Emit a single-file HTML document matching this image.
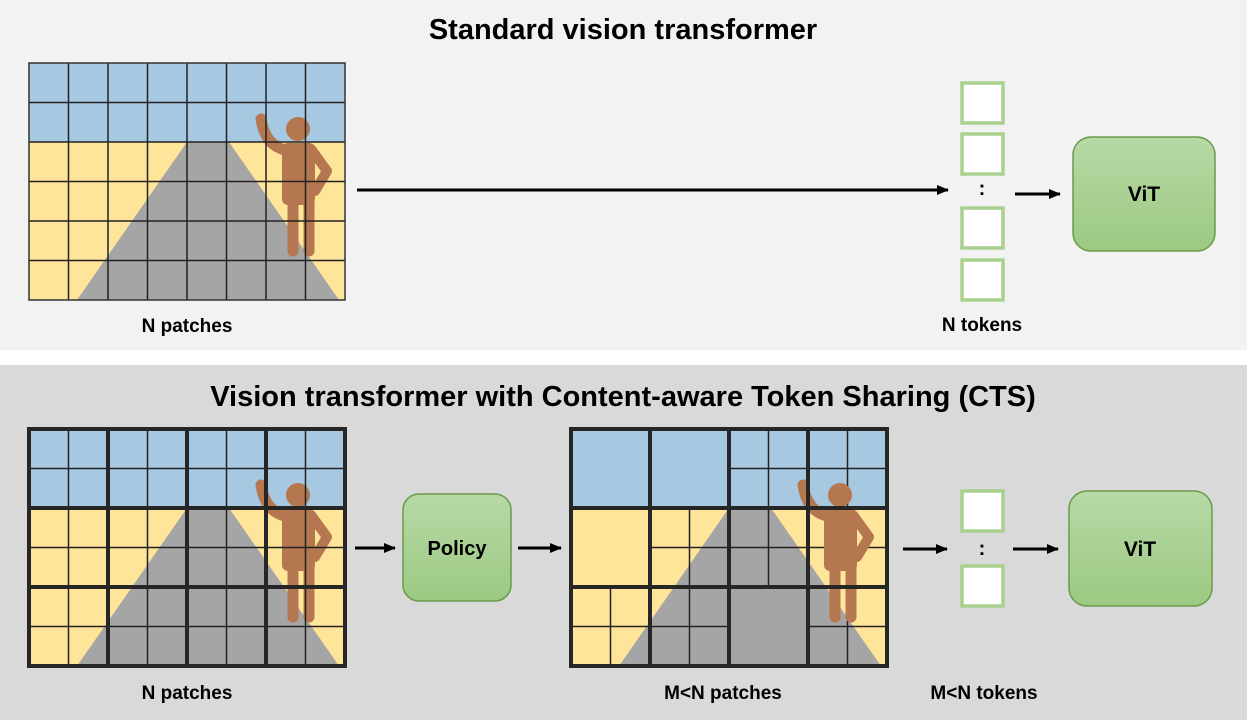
<!DOCTYPE html>
<html><head><meta charset="utf-8"><style>
body{margin:0;width:1247px;height:720px;overflow:hidden;background:#fff;font-family:"Liberation Sans",sans-serif}
svg text{font-family:"Liberation Sans",sans-serif;font-weight:bold}
</style></head><body>
<svg width="1247" height="720" viewBox="0 0 1247 720" xmlns="http://www.w3.org/2000/svg">
<defs>
<linearGradient id="g" x1="0" y1="0" x2="0" y2="1"><stop offset="0" stop-color="#b7d9a6"/><stop offset="1" stop-color="#9cc982"/></linearGradient>
<marker id="ah" markerWidth="12" markerHeight="12" refX="11" refY="6" orient="auto" markerUnits="userSpaceOnUse"><path d="M0,1 L12,6 L0,11 z" fill="#000"/></marker>
<g id="scene">
<rect x="0" y="0" width="316" height="79" fill="#a6c8e0"/>
<rect x="0" y="79" width="316" height="158" fill="#ffe599"/>
<polygon points="158,79 200,79 310,237 48,237" fill="#a5a5a5"/>
</g>
<g id="person" fill="#b5774f" stroke="#b5774f" stroke-linecap="round" stroke-linejoin="round">
<circle cx="269" cy="66" r="12" stroke="none"/>
<path d="M232,56 Q236,82 256,87" fill="none" stroke-width="11"/>
<rect x="253" y="80" width="33" height="62" rx="6" stroke="none"/>
<line x1="264" y1="138" x2="264" y2="188" stroke-width="11"/>
<line x1="280" y1="138" x2="280" y2="188" stroke-width="11"/>
<polyline points="282,86 298,108 286,128" fill="none" stroke-width="10"/>
</g>
<g id="fine" stroke="#222" stroke-width="1.5">
<line x1="39.5" y1="0" x2="39.5" y2="237"/><line x1="79" y1="0" x2="79" y2="237"/><line x1="118.5" y1="0" x2="118.5" y2="237"/><line x1="158" y1="0" x2="158" y2="237"/><line x1="197.5" y1="0" x2="197.5" y2="237"/><line x1="237" y1="0" x2="237" y2="237"/><line x1="276.5" y1="0" x2="276.5" y2="237"/>
<line x1="0" y1="39.5" x2="316" y2="39.5"/><line x1="0" y1="79" x2="316" y2="79"/><line x1="0" y1="118.5" x2="316" y2="118.5"/><line x1="0" y1="158" x2="316" y2="158"/><line x1="0" y1="197.5" x2="316" y2="197.5"/>
</g>
<g id="thick" stroke="#262626" stroke-width="4" fill="none">
<rect x="0" y="0" width="316" height="237"/>
<line x1="79" y1="0" x2="79" y2="237"/><line x1="158" y1="0" x2="158" y2="237"/><line x1="237" y1="0" x2="237" y2="237"/>
<line x1="0" y1="79" x2="316" y2="79"/><line x1="0" y1="158" x2="316" y2="158"/>
</g>
</defs>
<rect x="0" y="0" width="1247" height="350" fill="#f2f2f2"/>
<rect x="0" y="365" width="1247" height="355" fill="#d9d9d9"/>
<text x="623" y="39" font-size="29" text-anchor="middle">Standard vision transformer</text>
<text x="623" y="406" font-size="29" text-anchor="middle">Vision transformer with Content-aware Token Sharing (CTS)</text>

<g transform="translate(29,63)">
<use href="#scene"/><use href="#person"/><use href="#fine"/>
<rect x="0" y="0" width="316" height="237" fill="none" stroke="#333" stroke-width="1.5"/>
</g>
<text x="187" y="332" font-size="19" text-anchor="middle">N patches</text>
<line x1="357" y1="190" x2="948" y2="190" stroke="#000" stroke-width="3" marker-end="url(#ah)"/>
<g fill="#fff" stroke="#a9d18e" stroke-width="3.5">
<rect x="962" y="83" width="41" height="40"/><rect x="962" y="134" width="41" height="40"/>
<rect x="962" y="208" width="41" height="40"/><rect x="962" y="260" width="41" height="40"/>
</g>
<text x="982" y="195" font-size="20" text-anchor="middle">:</text>
<line x1="1015" y1="194" x2="1060" y2="194" stroke="#000" stroke-width="3" marker-end="url(#ah)"/>
<rect x="1073" y="137" width="142" height="114" rx="18" fill="url(#g)" stroke="#6a9a4c" stroke-width="1.5"/>
<text x="1144" y="201" font-size="21" text-anchor="middle">ViT</text>
<text x="982" y="331" font-size="19" text-anchor="middle">N tokens</text>

<g transform="translate(29,429)">
<use href="#scene"/><use href="#person"/><use href="#fine"/><use href="#thick"/>
</g>
<text x="187" y="699" font-size="19" text-anchor="middle">N patches</text>
<line x1="355" y1="548" x2="395" y2="548" stroke="#000" stroke-width="3" marker-end="url(#ah)"/>
<rect x="403" y="494" width="108" height="107" rx="16" fill="url(#g)" stroke="#6a9a4c" stroke-width="1.5"/>
<text x="457" y="555" font-size="20" text-anchor="middle">Policy</text>
<line x1="518" y1="548" x2="561" y2="548" stroke="#000" stroke-width="3" marker-end="url(#ah)"/>

<g transform="translate(571,429)">
<use href="#scene"/>
<g stroke="#222" stroke-width="1.5">
<line x1="197.5" y1="0" x2="197.5" y2="158"/><line x1="276.5" y1="0" x2="276.5" y2="237"/>
<line x1="158" y1="39.5" x2="316" y2="39.5"/>
<line x1="118.5" y1="79" x2="118.5" y2="237"/>
<line x1="79" y1="118.5" x2="316" y2="118.5"/>
<line x1="39.5" y1="158" x2="39.5" y2="237"/>
<line x1="0" y1="197.5" x2="158" y2="197.5"/><line x1="237" y1="197.5" x2="316" y2="197.5"/>
</g>
<use href="#person"/><use href="#thick"/>
</g>
<text x="723" y="699" font-size="19" text-anchor="middle">M&lt;N patches</text>
<line x1="903" y1="549" x2="947" y2="549" stroke="#000" stroke-width="3" marker-end="url(#ah)"/>
<g fill="#fff" stroke="#a9d18e" stroke-width="3.5">
<rect x="962" y="491" width="41" height="40"/><rect x="962" y="566" width="41" height="40"/>
</g>
<text x="982" y="555" font-size="20" text-anchor="middle">:</text>
<line x1="1013" y1="549" x2="1058" y2="549" stroke="#000" stroke-width="3" marker-end="url(#ah)"/>
<rect x="1069" y="491" width="143" height="115" rx="18" fill="url(#g)" stroke="#6a9a4c" stroke-width="1.5"/>
<text x="1140" y="556" font-size="21" text-anchor="middle">ViT</text>
<text x="984" y="699" font-size="19" text-anchor="middle">M&lt;N tokens</text>
</svg>
</body></html>
